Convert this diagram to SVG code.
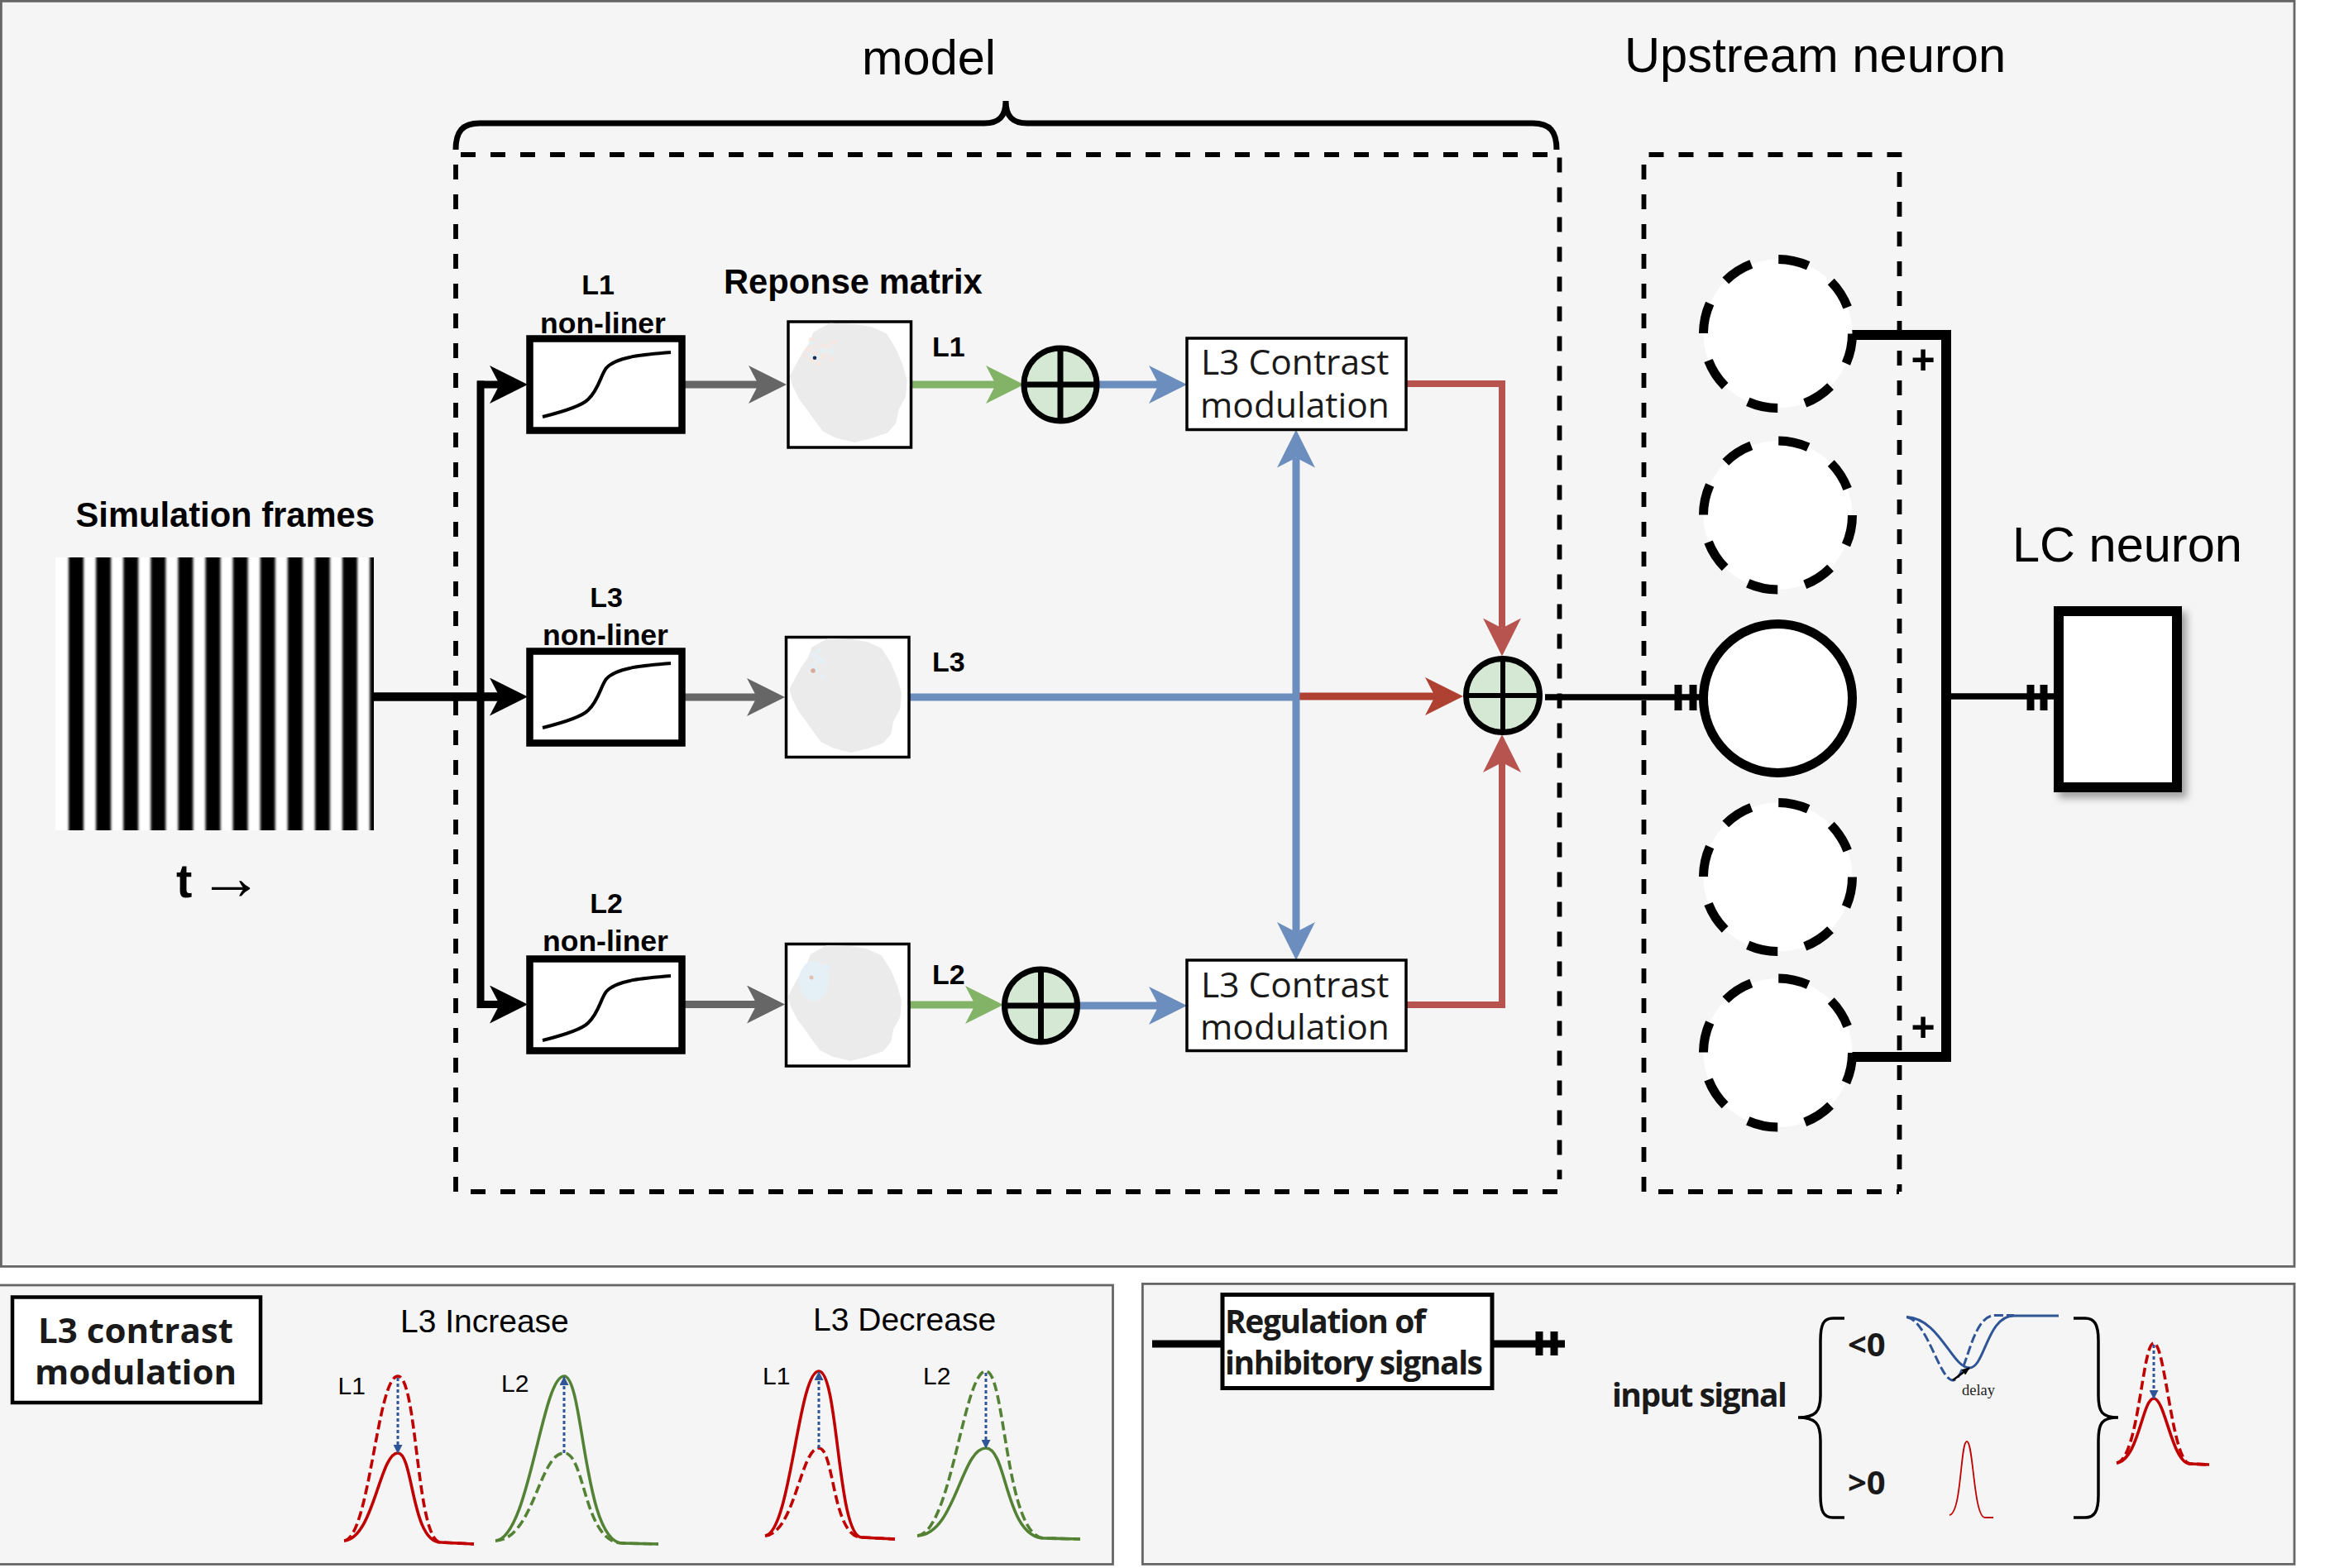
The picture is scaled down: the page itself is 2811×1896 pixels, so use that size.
<svg xmlns="http://www.w3.org/2000/svg" width="2811" height="1896" viewBox="0 0 2811 1896">
<style>
.panel{fill:#f5f5f5;stroke:#666;stroke-width:2.8}
.sans{font-family:"Liberation Sans",Arial,sans-serif;fill:#000}
.b{font-weight:bold}
.open{font-family:"Open Sans","Noto Sans",sans-serif;fill:#1a1a1a}
.dash{fill:none;stroke:#000;stroke-width:5.8;stroke-dasharray:18 18}
.nl{fill:#fff;stroke:#000;stroke-width:8.5}
.curve{fill:none;stroke:#000;stroke-width:4}
.resp{fill:#fff;stroke:#000;stroke-width:3.5}
.blob{fill:#ebebeb}
.pk{fill:#f8e6e1}
.cy{fill:#e3f1f7}
.sum{fill:#d5e8d4;stroke:#000;stroke-width:7}
.cross{stroke:#000;stroke-width:7}
.conbox{fill:#fff;stroke:#000;stroke-width:3.5}
.up{fill:#fff;stroke:#000;stroke-width:11;stroke-dasharray:37 33.7}
.line{fill:none;stroke-linejoin:miter}
.k{stroke:#000;stroke-width:9}
.g{stroke:#666;stroke-width:9;marker-end:url(#hGray)}
.gn{stroke:#82b366;stroke-width:9;marker-end:url(#hGreen)}
.bl{stroke:#6c8ebf;stroke-width:9}
.rd{stroke:#b85450;stroke-width:8;marker-end:url(#hRed)}
.tick{stroke:#000;stroke-width:9;fill:none}
.rs{fill:none;stroke:#c00000;stroke-width:3.6}
.rdd{fill:none;stroke:#c00000;stroke-width:3.6;stroke-dasharray:11 5}
.gs{fill:none;stroke:#548235;stroke-width:3.6}
.gd{fill:none;stroke:#548235;stroke-width:3.6;stroke-dasharray:11 5}
.bs{fill:none;stroke:#2f5597;stroke-width:3}
.bd{fill:none;stroke:#2f5597;stroke-width:3;stroke-dasharray:11 4}
.dot{fill:none;stroke:#2f5597;stroke-width:3;stroke-dasharray:4 3;marker-end:url(#hDot)}
.brace{fill:none;stroke:#000;stroke-width:3.5}
</style>
<defs>
<marker id="hBlack" markerUnits="userSpaceOnUse" viewBox="0 0 46 46" markerWidth="46" markerHeight="46" refX="12" refY="23" orient="auto"><path d="M0 0L46 23L0 46L12 23Z" fill="#000"/></marker>
<marker id="hGray" markerUnits="userSpaceOnUse" viewBox="0 0 46 46" markerWidth="46" markerHeight="46" refX="12" refY="23" orient="auto"><path d="M0 0L46 23L0 46L12 23Z" fill="#666"/></marker>
<marker id="hGreen" markerUnits="userSpaceOnUse" viewBox="0 0 46 46" markerWidth="46" markerHeight="46" refX="12" refY="23" orient="auto"><path d="M0 0L46 23L0 46L12 23Z" fill="#82b366"/></marker>
<marker id="hBlue" markerUnits="userSpaceOnUse" viewBox="0 0 46 46" markerWidth="46" markerHeight="46" refX="12" refY="23" orient="auto"><path d="M0 0L46 23L0 46L12 23Z" fill="#6c8ebf"/></marker>
<marker id="hRed" markerUnits="userSpaceOnUse" viewBox="0 0 46 46" markerWidth="46" markerHeight="46" refX="12" refY="23" orient="auto"><path d="M0 0L46 23L0 46L12 23Z" fill="#b85450"/></marker>
<marker id="hDark" markerUnits="userSpaceOnUse" viewBox="0 0 46 46" markerWidth="46" markerHeight="46" refX="12" refY="23" orient="auto"><path d="M0 0L46 23L0 46L12 23Z" fill="#ae4132"/></marker>
<marker id="hDot" markerUnits="userSpaceOnUse" viewBox="0 0 11 11" markerWidth="11" markerHeight="11" refX="10" refY="5.500" orient="auto"><path d="M0 0L11 5.500L0 11Z" fill="#2f5597"/></marker>
<marker id="hDelay" markerUnits="userSpaceOnUse" viewBox="0 0 10 8" markerWidth="10" markerHeight="8" refX="9" refY="4" orient="auto"><path d="M0 0L10 4L0 8Z" fill="#000"/></marker>
<path id="sig" class="curve" d="M656 504C680 498 703 491 711 483C724 471 726 454 733 445C745 431 778 429 811 426"/>
<polygon id="blobshape" class="blob" points="1003.300,390.700 1033.300,391.700 1053.300,395 1071.700,403.300 1083.300,421.700 1091.700,441.700 1096.700,460 1095,480 1086.700,495 1083.300,511.700 1073.300,523.300 1053.300,530 1033.300,535 1010,529.300 995,521.700 985,508.300 976.700,496.700 966.700,483.300 958.300,466.700 955,455 961.700,441.700 970,426.700 978.300,415 983.300,401.700"/>
<filter id="sh" x="-10%" y="-10%" width="125%" height="125%"><feDropShadow dx="6" dy="7" stdDeviation="5" flood-color="#000" flood-opacity="0.35"/></filter>
<filter id="soft" x="-2%" y="-2%" width="104%" height="104%"><feGaussianBlur stdDeviation="1.500 0"/></filter>
<clipPath id="fr"><rect x="67" y="674" width="385" height="330"/></clipPath>
</defs>
<rect width="2811" height="1896" fill="#fff"/>
<g id="panels">
<rect class="panel" x="1.400" y="1.400" width="2772.600" height="1530"/>
<rect class="panel" x="-2" y="1554" width="1347.500" height="337.500"/>
<rect class="panel" x="1381.400" y="1552.400" width="1392.600" height="339"/>
<path class="dash" d="M551 1441V187H1885.500V1426"/>
<path class="dash" d="M569 1441H1885"/>
<path class="dash" d="M1987.500 1441V187H2296.500V1441"/>
<path class="dash" d="M2005 1441H2296"/>
<path id="model-brace" fill="none" stroke="#000" stroke-width="7" d="M551 181C551 159 559 149 580 149H1190C1207 149 1216 142 1216 122C1216 142 1225 149 1242 149H1853C1874 149 1882 159 1882 181"/>
</g>
<g id="titles">
<text class="sans" x="1042" y="90" font-size="59.500">model</text>
<text class="sans" x="1964" y="86.500" font-size="59.700">Upstream neuron</text>
<text class="sans" x="2433" y="679" font-size="59.500">LC neuron</text>
<text class="sans b" x="875" y="354.500" font-size="41.700">Reponse matrix</text>
</g>
<g id="frames">
<text class="sans b" x="91.500" y="637" font-size="41.700">Simulation frames</text>
<rect x="67" y="674" width="385" height="330" fill="#fff"/>
<g clip-path="url(#fr)"><g fill="#000" filter="url(#soft)">
<rect x="83" y="664" width="18" height="350"/><rect x="116.100" y="664" width="18" height="350"/><rect x="149.200" y="664" width="18" height="350"/><rect x="182.300" y="664" width="18" height="350"/><rect x="215.400" y="664" width="18" height="350"/><rect x="248.500" y="664" width="18" height="350"/><rect x="281.600" y="664" width="18" height="350"/><rect x="314.700" y="664" width="18" height="350"/><rect x="347.800" y="664" width="18" height="350"/><rect x="380.900" y="664" width="18" height="350"/><rect x="414" y="664" width="18" height="350"/><rect x="447.100" y="664" width="12" height="350"/>
</g></g>
<text class="sans b" x="213" y="1085" font-size="58">t</text>
<text x="240" y="1087" font-size="78" font-family="Liberation Serif,serif">→</text>
</g>
<g id="connectors">
<path class="line k" style="stroke-width:10.500" d="M452 842.500H604" marker-end="url(#hBlack)"/>
<path class="line k" d="M581 460.500V1219"/>
<path class="line k" d="M577 465H604" marker-end="url(#hBlack)"/>
<path class="line k" d="M577 1214.500H604" marker-end="url(#hBlack)"/>
<path class="line g" d="M828 465H917"/>
<path class="line g" d="M824 843H915"/>
<path class="line g" d="M828 1214.500H915"/>
<path class="line gn" d="M1103 465H1204"/>
<path class="line gn" d="M1099 1215H1179"/>
<path class="line bl" d="M1329 465H1401" marker-end="url(#hBlue)"/>
<path class="line bl" d="M1305 1216H1401" marker-end="url(#hBlue)"/>
<path class="line" stroke="#ae4132" stroke-width="9" d="M1571 842H1735" marker-end="url(#hDark)"/>
<path class="line bl" d="M1100 843H1571"/>
<path class="line bl" d="M1567 843V553.600" marker-end="url(#hBlue)"/>
<path class="line bl" d="M1567 843V1127" marker-end="url(#hBlue)"/>
<path class="line rd" d="M1700 464H1816V759.500"/>
<path class="line rd" d="M1700 1215H1816V922"/>
<path class="line" stroke="#000" stroke-width="7.500" d="M1868 843H2056"/>
<path class="tick" d="M2029 828V859M2047 828V859"/>
<path class="line" stroke="#000" stroke-width="12" d="M2238 405H2353V1278H2238"/>
<path class="line" stroke="#000" stroke-width="7.500" d="M2353 842H2483"/>
<path class="tick" d="M2455 828V859M2471 828V859"/>
</g>
<g id="node-l1-nonlinear">
<text class="sans b" x="723" y="356" font-size="34" text-anchor="middle">L1</text>
<text class="sans b" x="729" y="402.500" font-size="35.500" text-anchor="middle">non-liner</text>
<rect class="nl" x="640.500" y="409.500" width="184" height="111"/>
<use href="#sig"/>
</g>
<g id="node-l3-nonlinear">
<text class="sans b" x="733" y="733.500" font-size="34" text-anchor="middle">L3</text>
<text class="sans b" x="732" y="779.500" font-size="35.500" text-anchor="middle">non-liner</text>
<rect class="nl" x="640.500" y="787.500" width="184" height="111"/>
<use href="#sig" y="376"/>
</g>
<g id="node-l2-nonlinear">
<text class="sans b" x="733" y="1103.500" font-size="34" text-anchor="middle">L2</text>
<text class="sans b" x="732" y="1149.500" font-size="35.500" text-anchor="middle">non-liner</text>
<rect class="nl" x="640.500" y="1159.500" width="184" height="111"/>
<use href="#sig" y="754"/>
</g>
<g id="node-l1-response">
<rect class="resp" x="953" y="389" width="148.500" height="152"/>
<use href="#blobshape"/>
<g class="pk"><circle cx="980.700" cy="410.700" r="2.700"/><circle cx="983.300" cy="418.300" r="2.700"/><circle cx="976.700" cy="422.700" r="2.700"/><circle cx="972.700" cy="430" r="2.700"/><circle cx="993.300" cy="418.300" r="2.700"/><circle cx="1000.700" cy="418.300" r="2.700"/><circle cx="1008.300" cy="413.300" r="2.700"/><circle cx="996.700" cy="430" r="2.700"/><circle cx="992.700" cy="431.700" r="2.700"/><circle cx="980.700" cy="435" r="2.700"/><circle cx="989.300" cy="440" r="2.700"/><circle cx="1005" cy="435" r="2.700"/><circle cx="985" cy="426.700" r="2.700"/></g>
<g class="cy"><circle cx="980.700" cy="415" r="2.700"/><circle cx="995" cy="424.300" r="2.700"/><circle cx="1005" cy="425" r="2.700"/><circle cx="980.700" cy="430" r="2.700"/><circle cx="989.300" cy="431.700" r="2.700"/></g>
<circle cx="985" cy="432.700" r="2.300" fill="#1a2a5e"/>
<text class="sans b" x="1127" y="430.600" font-size="34">L1</text>
</g>
<g id="node-l3-response">
<rect class="resp" x="950.500" y="770.500" width="148.500" height="145"/>
<use href="#blobshape" transform="translate(954.500 772) scale(.956) translate(-955 -390.700)"/>
<g class="cy"><circle cx="983" cy="792" r="2.700"/><circle cx="990" cy="795" r="2.700"/><circle cx="987" cy="800" r="2.700"/><circle cx="982" cy="805" r="2.700"/><circle cx="986" cy="810" r="2.700"/><circle cx="995" cy="818" r="2.700"/><circle cx="990" cy="787" r="2.700"/><circle cx="994" cy="799" r="2.700"/></g>
<circle cx="983" cy="811" r="2.800" fill="#d9a99c"/>
<text class="sans b" x="1127" y="812" font-size="34">L3</text>
</g>
<g id="node-l2-response">
<rect class="resp" x="950.500" y="1141.500" width="148.500" height="147.500"/>
<use href="#blobshape" transform="translate(952.600 1143) scale(.97) translate(-955 -390.700)"/>
<ellipse cx="984" cy="1186" rx="18" ry="24" fill="#e4f0f6"/>
<circle cx="1000" cy="1170" r="4" fill="#e4f0f6"/>
<circle cx="981" cy="1182" r="2.500" fill="#e0bfb5"/>
<text class="sans b" x="1127" y="1190" font-size="34">L2</text>
</g>
<g id="node-sum-l1"><circle class="sum" cx="1282" cy="465" r="44"/><path class="cross" d="M1238 465H1326M1282 421V509"/></g>
<g id="node-sum-l2"><circle class="sum" cx="1258.500" cy="1216" r="44"/><path class="cross" d="M1214.500 1216H1302.500M1258.500 1172V1260"/></g>
<g id="node-sum-main"><circle class="sum" cx="1817" cy="841" r="44.500"/><path class="cross" style="stroke-width:6" d="M1772.500 841H1861.500M1817 796.500V885.500"/></g>
<g id="node-contrast-top">
<rect class="conbox" x="1435" y="409" width="265" height="110.500"/>
<text class="open" x="1452" y="453" font-size="42.500">L3 Contrast</text>
<text class="open" x="1451" y="505" font-size="42.500">modulation</text>
</g>
<g id="node-contrast-bottom">
<rect class="conbox" x="1435" y="1161" width="265" height="109.500"/>
<text class="open" x="1452" y="1206" font-size="42.500">L3 Contrast</text>
<text class="open" x="1451" y="1256.500" font-size="42.500">modulation</text>
</g>
<g id="node-upstream-1"><circle class="up" cx="2149.500" cy="403.500" r="90"/></g>
<g id="node-upstream-2"><circle class="up" cx="2149.500" cy="623" r="90"/></g>
<g id="node-upstream-3"><circle class="up" style="stroke-dasharray:none" cx="2149.500" cy="844.500" r="90"/></g>
<g id="node-upstream-4"><circle class="up" cx="2149.500" cy="1060.500" r="90"/></g>
<g id="node-upstream-5"><circle class="up" cx="2149.500" cy="1273" r="90"/></g>
<g id="plus-signs">
<text class="sans b" x="2325" y="452" font-size="50" text-anchor="middle">+</text>
<text class="sans b" x="2325" y="1259" font-size="50" text-anchor="middle">+</text>
</g>
<g id="node-lc"><rect x="2489" y="739" width="143" height="213" fill="#fff" stroke="#000" stroke-width="12" filter="url(#sh)"/></g>
<g id="legend-contrast">
<rect x="15" y="1568.500" width="300" height="127.500" fill="#fff" stroke="#000" stroke-width="4.500"/>
<text class="open b" x="164" y="1623.500" font-size="42" text-anchor="middle" textLength="236">L3 contrast</text>
<text class="open b" x="164" y="1674" font-size="42" text-anchor="middle" textLength="244">modulation</text>
<text class="sans" x="484" y="1611" font-size="39">L3 Increase</text>
<text class="sans" x="983" y="1609" font-size="39">L3 Decrease</text>
<text class="sans" x="408.500" y="1686" font-size="30">L1</text>
<text class="sans" x="606" y="1682.700" font-size="30">L2</text>
<text class="sans" x="922" y="1674" font-size="30">L1</text>
<text class="sans" x="1116" y="1674" font-size="30">L2</text>
<path class="rdd" d="M416 1863C447 1860 456 1664 481 1664C505 1664 503 1865 533 1865L573 1867"/>
<path class="rs" d="M416 1863C452 1860 459 1757 481 1757C500 1757 497 1865 533 1865L573 1867"/>
<path class="dot" d="M481 1666V1757"/>
<path class="gs" d="M599 1863C640 1860 655 1664 682 1664C706 1664 705 1866 753 1866L796 1867"/>
<path class="gd" d="M599 1863C645 1862 652 1757 682 1757C708 1757 705 1866 753 1866L796 1867"/>
<path class="dot" d="M682 1757V1665"/>
<g transform="translate(509 -6)">
<path class="rs" d="M416 1863C447 1860 456 1664 481 1664C505 1664 503 1865 533 1865L573 1867"/>
<path class="rdd" d="M416 1863C452 1860 459 1757 481 1757C500 1757 497 1865 533 1865L573 1867"/>
<path class="dot" d="M481 1757V1665"/>
</g>
<g transform="translate(510 -6)">
<path class="gd" d="M599 1863C640 1860 655 1664 682 1664C706 1664 705 1866 753 1866L796 1867"/>
<path class="gs" d="M599 1863C645 1862 652 1757 682 1757C708 1757 705 1866 753 1866L796 1867"/>
<path class="dot" d="M682 1666V1757"/>
</g>
</g>
<g id="legend-inhibition">
<path class="line" stroke="#000" stroke-width="9" d="M1393 1625H1478M1805 1625H1892"/>
<path class="tick" d="M1861 1610V1639M1879 1610V1639"/>
<rect x="1478" y="1565.500" width="326" height="113" fill="#fff" stroke="#000" stroke-width="5"/>
<text class="open b" x="1481" y="1612" font-size="39" textLength="243">Regulation of</text>
<text class="open b" x="1481" y="1662" font-size="39" textLength="312">inhibitory signals</text>
<text class="open b" x="1949" y="1701" font-size="39" textLength="212">input signal</text>
<path class="brace" d="M2230 1594H2216C2205 1594 2201 1601 2201 1621V1687C2201 1707 2195 1714 2174 1714C2195 1714 2201 1721 2201 1742V1808C2201 1828 2205 1835 2216 1835H2230"/>
<path class="brace" d="M2507 1594H2521C2532 1594 2537 1601 2537 1621V1687C2537 1707 2541 1714 2561 1714C2541 1714 2537 1721 2537 1742V1808C2537 1828 2532 1835 2521 1835H2507"/>
<text class="open b" x="2234" y="1640" font-size="40">&lt;0</text>
<text class="open b" x="2234" y="1807" font-size="40">&gt;0</text>
<path class="bs" d="M2305 1592.500C2345 1594 2360 1654 2381 1654C2400 1654 2402 1591 2435 1591H2489"/>
<path class="bd" d="M2305 1592.500C2330 1596 2345 1669 2361 1669C2378 1669 2382 1590.500 2412 1590.500H2435"/>
<path fill="none" stroke="#000" stroke-width="2.500" d="M2361 1669L2381 1654" marker-end="url(#hDelay)"/>
<text x="2372" y="1687" font-size="18.500" font-family="Liberation Serif,serif" fill="#222">delay</text>
<path fill="none" stroke="#c00000" stroke-width="1.800" d="M2357 1832C2372 1829 2370 1743 2378 1743C2386 1743 2386 1835 2400 1835L2410 1835"/>
<path class="rdd" d="M2559 1769C2586 1765 2590 1624 2604 1624C2618 1624 2626 1770 2648 1770L2671 1771"/>
<path class="rs" d="M2559 1769C2586 1765 2590 1691 2604 1691C2618 1691 2626 1770 2648 1770L2671 1771"/>
<path class="dot" d="M2604 1626V1691"/>
</g>
</svg>
